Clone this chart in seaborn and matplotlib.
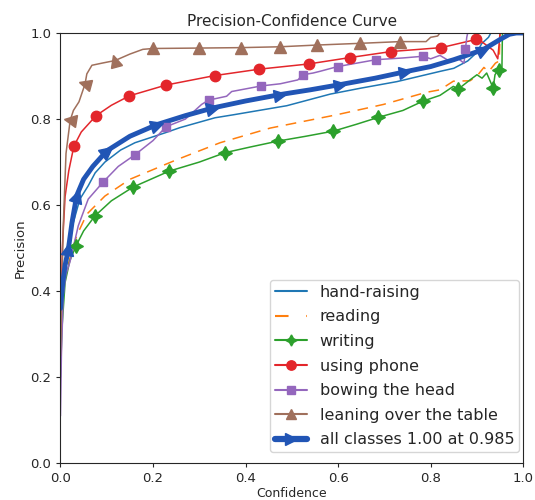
import numpy as np
import matplotlib
matplotlib.use("Agg")
import matplotlib.pyplot as plt
from matplotlib.lines import Line2D
from matplotlib.markers import MarkerStyle
from matplotlib.transforms import Affine2D
import seaborn as sns

# values (confidence, precision), marks = marker indices
hand_c = [0.0, 0.004, 0.01, 0.024, 0.042, 0.06, 0.075, 0.096, 0.13, 0.161, 0.226, 0.258, 0.334, 0.374, 0.489,
          0.583, 0.65, 0.727, 0.821, 0.85, 0.88, 0.90, 0.91, 0.925, 0.93, 1.0]
hand_p = [0.28, 0.38, 0.452, 0.545, 0.614, 0.645, 0.675, 0.70, 0.728, 0.745, 0.768, 0.78, 0.803, 0.81, 0.831,
          0.858, 0.872, 0.887, 0.911, 0.918, 0.935, 0.955, 0.975, 0.99, 1.0, 1.0]

read_c = [0.0, 0.003, 0.01, 0.02, 0.035, 0.057, 0.096, 0.15, 0.25, 0.345, 0.453, 0.597, 0.698, 0.79, 0.82,
          0.849, 0.885, 0.90, 0.915, 0.925, 0.94, 0.948, 0.95, 1.0]
read_p = [0.25, 0.37, 0.43, 0.475, 0.529, 0.579, 0.621, 0.66, 0.705, 0.745, 0.779, 0.81, 0.834, 0.862, 0.868,
          0.888, 0.889, 0.90, 0.92, 0.91, 0.93, 0.935, 1.0, 1.0]

write_c = [0.0, 0.003, 0.01, 0.02, 0.0335, 0.05, 0.0746, 0.11, 0.157, 0.235, 0.30, 0.356, 0.41, 0.471, 0.53,
           0.59, 0.64, 0.687, 0.74, 0.784, 0.82, 0.849, 0.86, 0.885, 0.90, 0.911, 0.921, 0.935, 0.939, 0.947,
           0.954, 0.955, 1.0]
write_p = [0.2, 0.31, 0.42, 0.47, 0.505, 0.54, 0.575, 0.61, 0.642, 0.679, 0.70, 0.722, 0.735, 0.749, 0.76,
           0.772, 0.788, 0.804, 0.82, 0.842, 0.855, 0.876, 0.870, 0.891, 0.903, 0.895, 0.907, 0.872, 0.903, 0.915,
           0.92, 1.0, 1.0]
write_marks = [4, 6, 8, 9, 11, 13, 15, 17, 19, 22, 27, 29]

phone_c = [0.0, 0.004, 0.01, 0.018, 0.029, 0.045, 0.077, 0.11, 0.149, 0.228, 0.333, 0.43, 0.536, 0.626, 0.715,
           0.823, 0.898, 0.91, 0.935, 0.945, 0.95, 1.0]
phone_p = [0.25, 0.5, 0.62, 0.68, 0.737, 0.77, 0.808, 0.832, 0.854, 0.879, 0.901, 0.916, 0.928, 0.943, 0.957,
           0.966, 0.985, 0.98, 0.96, 0.94, 1.0, 1.0]
phone_marks = [4, 6, 8, 9, 10, 11, 12, 13, 14, 15, 16]

bow_c = [0.0, 0.002, 0.006, 0.012, 0.0205, 0.0385, 0.06, 0.0925, 0.125, 0.161, 0.2, 0.228, 0.27, 0.305, 0.32,
         0.359, 0.37, 0.434, 0.475, 0.513, 0.524, 0.546, 0.561, 0.599, 0.682, 0.74, 0.784, 0.80, 0.82, 0.84,
         0.86, 0.872, 0.875, 0.878, 0.88, 1.0]
bow_p = [0.11, 0.25, 0.39, 0.44, 0.468, 0.552, 0.614, 0.654, 0.69, 0.717, 0.75, 0.782, 0.80, 0.834, 0.844,
         0.853, 0.864, 0.877, 0.882, 0.891, 0.903, 0.907, 0.911, 0.922, 0.938, 0.942, 0.946, 0.94, 0.948, 0.935,
         0.94, 0.93, 0.962, 0.99, 1.0, 1.0]
bow_marks = [7, 9, 11, 14, 17, 20, 23, 24, 26, 32]

lean_c = [0.0, 0.006, 0.012, 0.021, 0.028, 0.04, 0.053, 0.057, 0.068, 0.09, 0.118, 0.15, 0.178, 0.2, 0.30,
          0.39, 0.475, 0.554, 0.648, 0.734, 0.79, 0.80, 0.815, 0.82, 1.0]
lean_p = [0.25, 0.55, 0.72, 0.797, 0.82, 0.84, 0.881, 0.905, 0.925, 0.93, 0.936, 0.951, 0.962, 0.964, 0.965,
          0.966, 0.968, 0.972, 0.976, 0.98, 0.98, 0.99, 0.993, 1.0, 1.0]
lean_marks = [3, 6, 10, 13, 14, 15, 16, 17, 18, 19]

all_c = [0.0, 0.005, 0.01, 0.017, 0.025, 0.035, 0.05, 0.07, 0.1, 0.15, 0.208, 0.27, 0.33, 0.4, 0.475, 0.54,
         0.604, 0.68, 0.745, 0.80, 0.85, 0.913, 0.95, 0.97, 0.985, 1.0]
all_p = [0.36, 0.42, 0.46, 0.497, 0.56, 0.622, 0.66, 0.69, 0.726, 0.76, 0.787, 0.808, 0.826, 0.842, 0.857,
         0.868, 0.880, 0.895, 0.91, 0.922, 0.938, 0.961, 0.985, 0.997, 1.0, 1.0]
all_marks = [3, 5, 8, 10, 12, 14, 16, 18, 21]

labels = ["hand-raising", "reading", "writing", "using phone", "bowing the head",
          "leaning over the table", "all classes 1.00 at 0.985"]

sns.set_style("ticks")
plt.rcParams["font.family"] = ["DejaVu Sans"]

fig = plt.figure(figsize=(5.35, 5.0), dpi=100)
ax = fig.add_axes([0.113, 0.0734, 0.865, 0.8606])
ax.set_xlim(0, 1)
ax.set_ylim(0, 1)

# (x, y, marks, color, lw, ls, marker, ms, turn marker along the line)
series = [
    (hand_c, hand_p, [], "#1f77b4", 1.1, "-", None, 0, False),
    (read_c, read_p, [], "#ff7f0e", 1.1, (0, (7, 5)), None, 0, False),
    (write_c, write_p, write_marks, "#2ca02c", 1.1, "-", (4, 1, 0), 10, False),
    (phone_c, phone_p, phone_marks, "#e3262b", 1.1, "-", "o", 7.5, False),
    (bow_c, bow_p, bow_marks, "#9467bd", 1.1, "-", "s", 6, False),
    (lean_c, lean_p, lean_marks, "#a0705c", 1.1, "-", "^", 8.5, True),
    (all_c, all_p, all_marks, "#2155b5", 3.5, "-", ">", 9, True),
]

for xs, ys, marks, col, lw, ls, mk, ms, turn in series:
    sns.lineplot(x=xs, y=ys, ax=ax, color=col, lw=lw, linestyle=ls, sort=False, estimator=None)

for xs, ys, marks, col, lw, ls, mk, ms, turn in series:
    pts = ax.transData.transform(np.column_stack([xs, ys]))
    for i in marks:
        ang = 0
        if turn:
            d = pts[min(i + 1, len(pts) - 1)] - pts[max(i - 1, 0)]
            ang = np.degrees(np.arctan2(d[1], d[0]))
        m = MarkerStyle(mk, transform=Affine2D().rotate_deg(ang))
        ax.plot(xs[i], ys[i], marker=m, ms=ms, color=col, mec=col, ls="none", clip_on=False)

handles = []
for xs, ys, marks, col, lw, ls, mk, ms, turn in series:
    leg_lw = 4.5 if lw > 2 else 1.5
    handles.append(Line2D([], [], color=col, lw=leg_lw, linestyle=ls if ls == "-" else (0, (6.5, 8.5)),
                          marker=mk, ms=ms * 0.9 if mk != (4, 1, 0) else 8))
ax.legend(handles, labels, loc="lower right", bbox_to_anchor=(0.991, 0.026), fontsize=11.5,
          frameon=True, fancybox=True, borderaxespad=0, borderpad=0.3, handlelength=2.0, labelspacing=0.6)

ax.set_xticks([0.0, 0.2, 0.4, 0.6, 0.8, 1.0])
ax.set_yticks([0.0, 0.2, 0.4, 0.6, 0.8, 1.0])
ax.tick_params(labelsize=9.5, length=3, color="0.15")
ax.set_xlabel("Confidence", fontsize=9, labelpad=1)
ax.set_ylabel("Precision", fontsize=9.5, labelpad=3)
ax.set_title("Precision-Confidence Curve", fontsize=11, pad=5)
for s in ax.spines.values():
    s.set_color("0.15")

fig.savefig("out.png", dpi=100)
